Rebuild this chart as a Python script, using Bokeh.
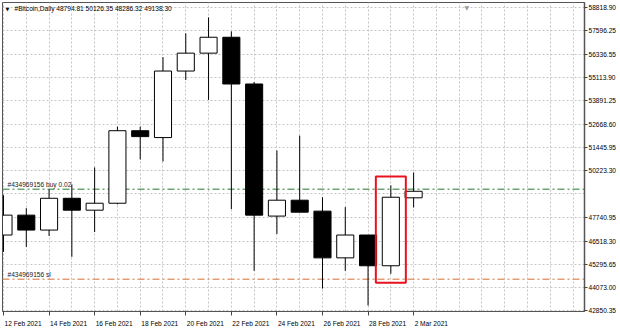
from bokeh.plotting import figure
from bokeh.models import (Range1d, FixedTicker, NumeralTickFormatter, Span, Label,
                          ColumnDataSource)
from bokeh.embed import file_html
from bokeh.resources import INLINE

# ---------------- data ----------------
dates = ["12 Feb 2021", "13 Feb 2021", "14 Feb 2021", "15 Feb 2021", "16 Feb 2021",
         "17 Feb 2021", "18 Feb 2021", "19 Feb 2021", "20 Feb 2021", "21 Feb 2021",
         "22 Feb 2021", "23 Feb 2021", "24 Feb 2021", "25 Feb 2021", "26 Feb 2021",
         "27 Feb 2021", "28 Feb 2021", "1 Mar 2021", "2 Mar 2021"]
opens = [46840, 47885, 47100, 48770, 48145, 48510, 52320, 51960, 55455, 56395,
         57230, 54775, 47835, 48670, 48095, 45640, 46840, 45225, 48794.81]
highs = [48930, 48250, 49240, 49500, 50390, 52530, 52530, 56185, 57440, 58275,
         57540, 54880, 51280, 52060, 48825, 48305, 46840, 49450, 50126.35]
lows = [45955, 46215, 46790, 45695, 47000, 48450, 50810, 50705, 54985, 53940,
        48200, 44960, 46895, 48040, 44025, 44960, 43135, 44805, 48286.32]
closes = [47885, 47100, 48770, 48145, 48510, 52320, 52010, 55455, 56395, 57230,
          54775, 47885, 48670, 48040, 45640, 46840, 45225, 48825, 49138.30]

label_dates = ["12 Feb 2021", "14 Feb 2021", "16 Feb 2021", "18 Feb 2021", "20 Feb 2021",
               "22 Feb 2021", "24 Feb 2021", "26 Feb 2021", "28 Feb 2021", "2 Mar 2021"]
price_ticks = [42850.35, 44073.00, 45295.65, 46518.30, 47740.95, 50223.30, 51445.95,
               52668.60, 53891.25, 55113.90, 56336.55, 57596.25, 58818.90]
hidden_grid_ticks = [49000.65]

symbol = "#Bitcoin,Daily"
buy_text = "#434969156 buy 0.02"
sl_text = "#434969156 sl"
buy_price = 49240.0
sl_price = 44510.0
highlight_date = "1 Mar 2021"

# ---------------- layout ----------------
W, H = 620, 329
BL, BT, BR, BB = 2, 2, 36, 16
frame_w = W - BL - BR
frame_h = H - BT - BB
x_start, x_end = -0.044, 25.5
y_start, y_end = 42822.0, 59056.0
px_per_day = frame_w / (x_end - x_start)
price_per_px = (y_end - y_start) / frame_h

FONT = "Liberation Sans"
FS = "6.6px"
TXT = "#000000"

p = figure(width=W, height=H, x_range=Range1d(x_start, x_end),
           y_range=Range1d(y_start, y_end), y_axis_location="right",
           output_backend="svg", toolbar_location=None,
           min_border_left=BL, min_border_top=BT, min_border_right=BR,
           min_border_bottom=BB)
p.background_fill_color = "white"
p.border_fill_color = "white"
p.outline_line_color = "#555555"
p.outline_line_width = 1

# grids
p.xgrid.ticker = FixedTicker(ticks=list(range(int(x_end) + 1)))
p.ygrid.ticker = FixedTicker(ticks=price_ticks + hidden_grid_ticks)
for g in (p.xgrid, p.ygrid):
    g.grid_line_color = "#c4c4c4"
    g.grid_line_dash = "2 2"
    g.grid_line_width = 1

# x axis: MetaTrader style left-aligned labels starting at the tick
cw = {" ": 0.278, "F": 0.611, "e": 0.556, "b": 0.556, "M": 0.833, "a": 0.556, "r": 0.333}
def text_w(s):
    return sum(cw.get(ch, 0.556) for ch in s) * 6.6

idx = {d: i for i, d in enumerate(dates)}
minor = [idx[d] for d in label_dates]
shifted = [round(idx[d] + (1.0 + text_w(d) / 2) / px_per_day, 4) for d in label_dates]
xa = p.xaxis[0]
xa.ticker = FixedTicker(ticks=shifted, minor_ticks=minor)
xa.major_label_overrides = {s: d for s, d in zip(shifted, label_dates)}
xa.major_tick_out = 0
xa.major_tick_in = 0
xa.minor_tick_out = 4
xa.minor_tick_in = 0
xa.minor_tick_line_color = "#444444"
xa.axis_line_color = "#555555"
xa.major_label_standoff = 4
xa.major_label_text_font = FONT
xa.major_label_text_font_size = FS
xa.major_label_text_color = TXT

ya = p.yaxis[0]
ya.ticker = FixedTicker(ticks=price_ticks)
ya.formatter = NumeralTickFormatter(format="0.00")
ya.major_tick_out = 3
ya.major_tick_in = 0
ya.minor_tick_out = 0
ya.minor_tick_in = 0
ya.major_tick_line_color = "#444444"
ya.axis_line_color = "#555555"
ya.axis_line_width = 1.5
ya.major_label_standoff = 1
ya.major_label_text_font = FONT
ya.major_label_text_font_size = FS
ya.major_label_text_color = TXT

# trade level lines
p.add_layout(Span(location=buy_price, dimension="width", line_color="#6aa572",
                  line_width=1.5, line_dash="7 3 2 3", level="underlay"))
p.add_layout(Span(location=sl_price, dimension="width", line_color="#e39c76",
                  line_width=1.5, line_dash="7 3 2 3", level="underlay"))

# candles
xs = list(range(len(dates)))
up = [c >= o for o, c in zip(opens, closes)]
src = ColumnDataSource(dict(
    x=xs, high=highs, low=lows,
    top=[max(o, c) for o, c in zip(opens, closes)],
    bottom=[min(o, c) for o, c in zip(opens, closes)],
    fill=["white" if u else "black" for u in up]))
p.segment(x0="x", y0="low", x1="x", y1="high", source=src, line_color="black", line_width=1)
p.vbar(x="x", width=0.75, top="top", bottom="bottom", source=src,
       fill_color="fill", line_color="black", line_width=1)

# highlight rectangle around a candle
hi = idx[highlight_date]
pad = 9 * price_per_px
half = 15 / px_per_day
p.quad(left=[hi - half], right=[hi + half], top=[highs[hi] + pad],
       bottom=[lows[hi] - pad], fill_alpha=0, line_color="#e8121e", line_width=2)

# texts
p.add_layout(Label(x=x_start, y=buy_price, x_offset=5, y_offset=4.5, text=buy_text,
                   text_font=FONT, text_font_size=FS, text_color="#222222",
                   text_baseline="middle"))
p.add_layout(Label(x=x_start, y=sl_price, x_offset=5, y_offset=4.5, text=sl_text,
                   text_font=FONT, text_font_size=FS, text_color="#222222",
                   text_baseline="middle"))
header = "%s  %.2f %.2f %.2f %.2f" % (symbol, opens[-1], highs[-1], lows[-1], closes[-1])
p.add_layout(Label(x=x_start, y=y_end, x_offset=12, y_offset=-6, text=header,
                   text_font=FONT, text_font_size=FS, text_color=TXT,
                   text_baseline="middle"))
p.add_layout(Label(x=x_start, y=y_end, x_offset=3, y_offset=-6, text="\u25bc",
                   text_font="DejaVu Sans", text_font_size="5px", text_color="#111111",
                   text_baseline="middle"))
p.add_layout(Label(x=x_end, y=y_end, x_offset=-120, y_offset=-1, text="\u25bc",
                   text_font="DejaVu Sans", text_font_size="6px", text_color="#9a9a9a",
                   text_baseline="top"))
p.add_layout(Label(x=x_end, y=closes[-1], x_offset=2, text="%.2f" % closes[-1],
                   text_font=FONT, text_font_size=FS, text_color="white",
                   text_baseline="middle", background_fill_color="black", padding=1))

open("out.html", "w").write(file_html(p, INLINE))
